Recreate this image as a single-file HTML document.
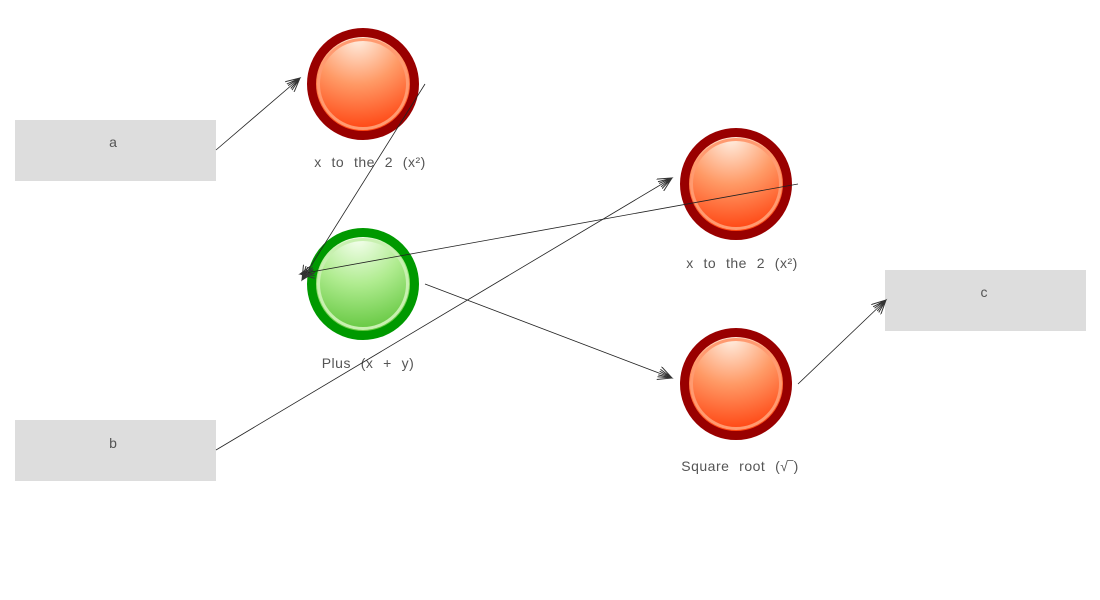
<!DOCTYPE html>
<html><head><meta charset="utf-8"><style>
html,body{margin:0;padding:0;background:#fff;width:1100px;height:600px;overflow:hidden}
svg text{font-family:"Liberation Sans",sans-serif;font-size:14px;fill:#555}
.l{letter-spacing:0.5px;word-spacing:0.5px}
</style></head><body>
<svg width="1100" height="600" xmlns="http://www.w3.org/2000/svg">
<defs>
<radialGradient id="rg" cx="0.45" cy="0.05" r="1">
<stop offset="0" stop-color="#fff0e4"/><stop offset="0.45" stop-color="#ff9a66"/><stop offset="1" stop-color="#ff3300"/></radialGradient>
<radialGradient id="gg" cx="0.45" cy="0.05" r="1">
<stop offset="0" stop-color="#f6fff0"/><stop offset="0.45" stop-color="#b0ec90"/><stop offset="1" stop-color="#55c030"/></radialGradient>
<marker id="ar" markerWidth="16" markerHeight="14" refX="14" refY="7" orient="auto" markerUnits="userSpaceOnUse">
<path d="M0,0 L14,7 L0,14 M0,3 L14,7 L0,11 M0,5 L14,7 L0,9" fill="none" stroke="#333" stroke-width="1"/></marker>
</defs>
<rect x="15" y="120" width="201" height="61" fill="#dddddd"/>
<rect x="15" y="420" width="201" height="61" fill="#dddddd"/>
<rect x="885" y="270" width="201" height="61" fill="#dddddd"/>
<text x="113" y="147" text-anchor="middle">a</text>
<text x="113" y="448" text-anchor="middle">b</text>
<text x="984" y="297" text-anchor="middle">c</text>

<g>
<circle cx="363" cy="84" r="51.5" fill="url(#rg)" stroke="#990000" stroke-width="9"/>
<circle cx="363" cy="84" r="44.5" fill="none" stroke="#ff9a70" stroke-width="3"/>
<circle cx="736" cy="184" r="51.5" fill="url(#rg)" stroke="#990000" stroke-width="9"/>
<circle cx="736" cy="184" r="44.5" fill="none" stroke="#ff9a70" stroke-width="3"/>
<circle cx="736" cy="384" r="51.5" fill="url(#rg)" stroke="#990000" stroke-width="9"/>
<circle cx="736" cy="384" r="44.5" fill="none" stroke="#ff9a70" stroke-width="3"/>
<circle cx="363" cy="284" r="51.5" fill="url(#gg)" stroke="#009900" stroke-width="9"/>
<circle cx="363" cy="284" r="44.5" fill="none" stroke="#c8f0b0" stroke-width="3"/>
</g>
<text class="l" x="370" y="167" text-anchor="middle" xml:space="preserve">x  to  the  2  (x²)</text>
<text class="l" x="742" y="268" text-anchor="middle" xml:space="preserve">x  to  the  2  (x²)</text>
<text class="l" x="368" y="368" text-anchor="middle" xml:space="preserve">Plus  (x  +  y)</text>
<text class="l" x="740" y="471" text-anchor="middle" xml:space="preserve">Square  root  (√‾)</text>

<g stroke="#222" stroke-width="0.8" fill="none">
<line x1="216" y1="150" x2="300" y2="78" marker-end="url(#ar)"/>
<line x1="425" y1="84" x2="302" y2="280" marker-end="url(#ar)"/>
<line x1="216" y1="450" x2="672" y2="178" marker-end="url(#ar)"/>
<line x1="798" y1="184" x2="300" y2="274" marker-end="url(#ar)"/>
<line x1="425" y1="284" x2="672" y2="378" marker-end="url(#ar)"/>
<line x1="798" y1="384" x2="886" y2="300" marker-end="url(#ar)"/>
</g>
</svg>
</body></html>
